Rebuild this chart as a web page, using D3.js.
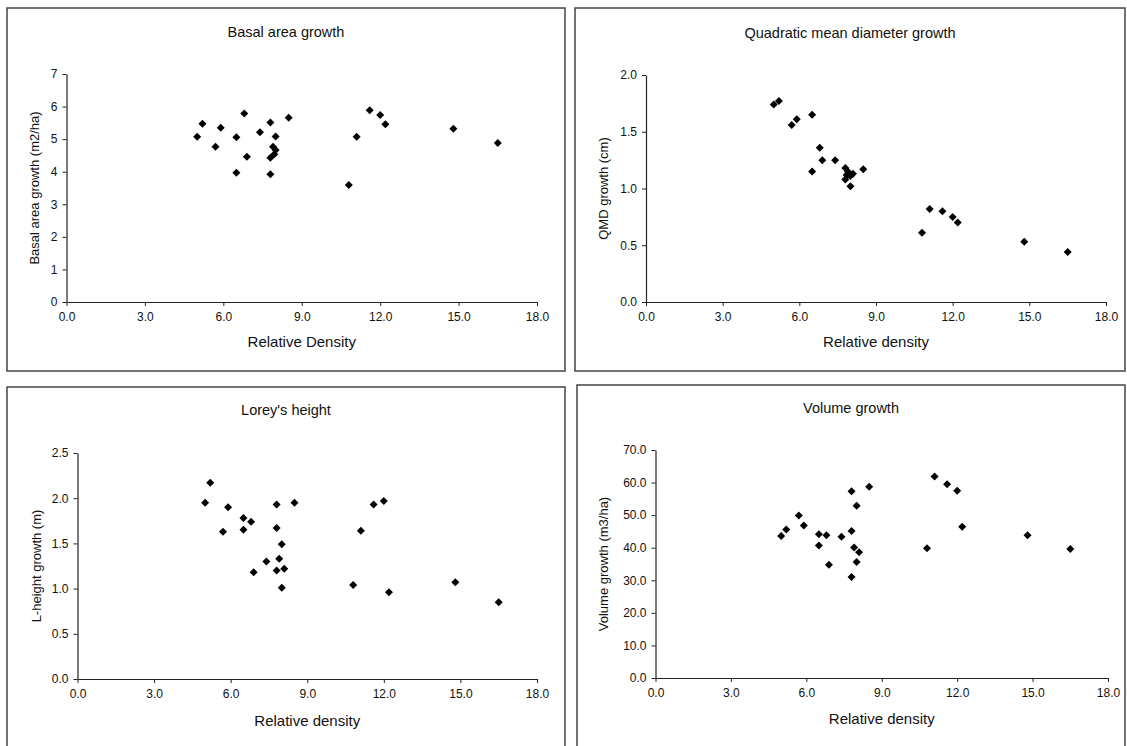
<!DOCTYPE html>
<html>
<head>
<meta charset="utf-8">
<script src="https://cdn.jsdelivr.net/npm/d3@7"></script>
<style>
  body { margin: 0; background: #fff; }
  svg text { font-family: "Liberation Sans", Arial, sans-serif; fill: #111; }
</style>
</head>
<body>
<svg id="chart" width="1127" height="746"></svg>
<script>
// ---------------- data ----------------

var densityTicks = [0, 3, 6, 9, 12, 15, 18];

var basalDensity = [5.0, 5.2, 5.9, 5.7, 6.5, 6.5, 6.8, 6.9, 7.4, 7.8, 7.8, 8.0, 7.9, 8.0, 7.95, 7.8, 8.5, 10.8, 11.1, 11.6, 12.0, 12.2, 14.8, 16.5];
var basalGrowth  = [5.07, 5.47, 5.35, 4.77, 5.06, 3.97, 5.79, 4.46, 5.21, 5.51, 3.92, 5.08, 4.77, 4.67, 4.54, 4.43, 5.66, 3.59, 5.07, 5.89, 5.74, 5.46, 5.32, 4.88];
var basalTicks   = [0, 1, 2, 3, 4, 5, 6, 7];

var qmdDensity = [5.0, 5.2, 5.7, 5.9, 6.5, 6.5, 6.8, 6.9, 7.4, 7.8, 7.8, 8.0, 8.5, 7.9, 8.1, 8.0, 7.85, 10.8, 11.1, 11.6, 12.0, 12.2, 14.8, 16.5];
var qmdGrowth  = [1.74, 1.77, 1.56, 1.61, 1.65, 1.15, 1.36, 1.25, 1.25, 1.18, 1.08, 1.02, 1.17, 1.15, 1.13, 1.11, 1.12, 0.61, 0.82, 0.80, 0.75, 0.70, 0.53, 0.44];
var qmdTicks   = [0, 0.5, 1.0, 1.5, 2.0];

var loreyDensity = [5.0, 5.2, 5.7, 5.9, 6.5, 6.5, 6.8, 6.9, 7.4, 7.8, 7.8, 7.8, 7.9, 8.0, 8.1, 8.0, 8.5, 10.8, 11.1, 11.6, 12.0, 12.2, 14.8, 16.5];
var loreyGrowth  = [1.95, 2.17, 1.63, 1.90, 1.78, 1.65, 1.74, 1.18, 1.30, 1.93, 1.67, 1.20, 1.33, 1.49, 1.22, 1.01, 1.95, 1.04, 1.64, 1.93, 1.97, 0.96, 1.07, 0.85];
var loreyTicks   = [0, 0.5, 1.0, 1.5, 2.0, 2.5];

var volumeDensity = [5.0, 5.2, 5.7, 5.9, 6.5, 6.5, 6.8, 6.9, 7.4, 7.8, 7.8, 7.9, 7.8, 8.0, 8.0, 8.1, 8.5, 10.8, 11.1, 11.6, 12.0, 12.2, 14.8, 16.5];
var volumeGrowth  = [43.6, 45.6, 49.9, 46.8, 44.1, 40.7, 43.8, 34.8, 43.4, 57.3, 45.1, 40.1, 31.0, 52.9, 35.6, 38.6, 58.7, 39.8, 61.9, 59.5, 57.5, 46.4, 43.8, 39.6];
var volumeTicks   = [0, 10, 20, 30, 40, 50, 60, 70];

var titles  = ["Basal area growth", "Quadratic mean diameter growth", "Lorey's height", "Volume growth"];
var xTitles = ["Relative Density", "Relative density", "Relative density", "Relative density"];
var yTitles = ["Basal area growth (m2/ha)", "QMD growth (cm)", "L-height growth (m)", "Volume growth (m3/ha)"];

// ---------------- layout ----------------

var panels = [
  { xs: basalDensity, ys: basalGrowth, yTicks: basalTicks, yFmt: d3.format("d"),
    frame: [7, 8, 558, 363], x0: 66.5, x1: 537, y0: 302, y1: 74, titleY: 32, xTitleY: 342, yTitleX: 34 },
  { xs: qmdDensity, ys: qmdGrowth, yTicks: qmdTicks, yFmt: d3.format(".1f"),
    frame: [575, 8, 550, 363], x0: 646, x1: 1106, y0: 302, y1: 75, titleY: 33, xTitleY: 342, yTitleX: 603 },
  { xs: loreyDensity, ys: loreyGrowth, yTicks: loreyTicks, yFmt: d3.format(".1f"),
    frame: [7, 387, 558, 420], x0: 77.5, x1: 537, y0: 679, y1: 453, titleY: 410, xTitleY: 721, yTitleX: 36 },
  { xs: volumeDensity, ys: volumeGrowth, yTicks: volumeTicks, yFmt: d3.format(".1f"),
    frame: [577, 385, 548, 420], x0: 655.5, x1: 1108, y0: 678, y1: 450, titleY: 408, xTitleY: 719, yTitleX: 603 }
];

var svg = d3.select("#chart");
svg.append("rect").attr("width", 1127).attr("height", 746).attr("fill", "#fff");

var marker = d3.symbol().type(d3.symbolSquare).size(32);

panels.forEach(function(p, k) {
  var g = svg.append("g");

  // frame
  g.append("rect")
    .attr("x", p.frame[0]).attr("y", p.frame[1])
    .attr("width", p.frame[2]).attr("height", p.frame[3])
    .attr("fill", "none").attr("stroke", "#444").attr("stroke-width", 1.5);

  var xScale = d3.scaleLinear().domain([0, 18]).range([p.x0, p.x1]);
  var yMax = p.yTicks[p.yTicks.length - 1];
  var yScale = d3.scaleLinear().domain([0, yMax]).range([p.y0, p.y1]);

  // axes
  var xAxis = d3.axisBottom(xScale).tickValues(densityTicks).tickFormat(d3.format(".1f"))
    .tickSize(4).tickSizeOuter(0).tickPadding(6);
  var yAxis = d3.axisLeft(yScale).tickValues(p.yTicks).tickFormat(p.yFmt)
    .tickSize(4).tickSizeOuter(0).tickPadding(5);

  var gx = g.append("g").attr("transform", "translate(0," + p.y0 + ")").call(xAxis);
  var gy = g.append("g").attr("transform", "translate(" + p.x0 + ",0)").call(yAxis);

  [gx, gy].forEach(function(a) {
    a.select(".domain").attr("stroke", "#222").attr("stroke-width", 1.2);
    a.selectAll(".tick line").attr("stroke", "#222");
    a.selectAll("text").attr("font-size", 12).attr("fill", "#111")
      .attr("font-family", "Liberation Sans, Arial, sans-serif");
  });

  // titles
  g.append("text")
    .attr("x", p.frame[0] + p.frame[2] / 2).attr("y", p.titleY)
    .attr("dy", "0.35em").attr("text-anchor", "middle")
    .attr("font-size", 14.5).text(titles[k]);

  g.append("text")
    .attr("x", (p.x0 + p.x1) / 2).attr("y", p.xTitleY)
    .attr("dy", "0.35em").attr("text-anchor", "middle")
    .attr("font-size", 15).text(xTitles[k]);

  g.append("text")
    .attr("transform", "translate(" + p.yTitleX + "," + ((p.y0 + p.y1) / 2) + ") rotate(-90)")
    .attr("dy", "0.35em").attr("text-anchor", "middle")
    .attr("font-size", 13).text(yTitles[k]);

  // points
  g.selectAll("path.pt")
    .data(d3.range(p.xs.length))
    .enter()
    .append("path")
      .attr("class", "pt")
      .attr("d", marker)
      .attr("transform", function(i) {
        return "translate(" + xScale(p.xs[i]) + "," + yScale(p.ys[i]) + ") rotate(45)";
      })
      .attr("fill", "#000");
});
</script>
</body>
</html>
